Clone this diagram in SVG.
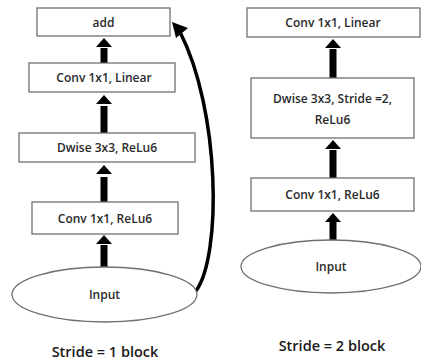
<svg xmlns="http://www.w3.org/2000/svg" width="421" height="360" viewBox="0 0 421 360">
<defs>
<style>
.box{fill:#fff;stroke:#707070;stroke-width:1.3}
.ell{fill:#fff;stroke:#707070;stroke-width:1.3}
.t{font-family:"Open Sans","DejaVu Sans",sans-serif;font-size:12px;font-weight:600;fill:#2a2a2a;text-anchor:middle}
.cap{font-family:"Open Sans","DejaVu Sans",sans-serif;font-size:14.5px;font-weight:600;fill:#1a1a1a;text-anchor:middle}
.shaft{stroke:#000;stroke-width:7;fill:none}
</style>
</defs>
<rect width="421" height="360" fill="#fff"/>
<g id="connectors">
<path class="shaft" d="M104,202 V177"/><path d="M96,174 L104,165 L112,174 z"/>
<path class="shaft" d="M104,267 V245"/><path d="M96,244 L104,235 L112,244 z"/>
<path class="shaft" d="M104,133 V106"/><path d="M96,104 L104,95 L112,104 z"/>
<path class="shaft" d="M104,63 V48"/><path d="M96,47 L104,38 L112,47 z"/>
<path class="shaft" d="M333,78 V49"/><path d="M325,48 L333,39 L341,48 z"/>
<path class="shaft" d="M333,178 V150"/><path d="M325,149 L333,140 L341,149 z"/>
<path class="shaft" d="M333,240 V222"/><path d="M325,222 L333,213 L341,222 z"/>
<path d="M196,291 C222,255 220,110 180,32" fill="none" stroke="#000" stroke-width="3.5"/>
<path d="M172,22 L188,28 L176,38 z"/>
</g>
<g id="add"><rect class="box" x="37" y="8" width="133" height="28"/><text class="t" x="103.5" y="26.5">add</text></g>
<g id="l_linear"><rect class="box" x="29" y="63" width="146" height="29"/><text class="t" x="104" y="82">Conv 1x1, Linear</text></g>
<g id="l_dwise"><rect class="box" x="19" y="133" width="176" height="29"/><text class="t" x="107" y="152">Dwise 3x3, ReLu6</text></g>
<g id="l_conv"><rect class="box" x="32" y="202" width="146" height="32"/><text class="t" x="105" y="222.5">Conv 1x1, ReLu6</text></g>
<g id="l_input"><ellipse class="ell" cx="104.5" cy="294.5" rx="92.5" ry="27.5"/><text class="t" x="104.5" y="299">Input</text></g>
<g id="r_linear"><rect class="box" x="247" y="8" width="173" height="29"/><text class="t" x="333" y="27">Conv 1x1, Linear</text></g>
<g id="r_dwise"><rect class="box" x="251" y="78" width="163" height="60"/><text class="t" x="332.5" y="103">Dwise 3x3, Stride =2,</text><text class="t" x="332.5" y="124">ReLu6</text></g>
<g id="r_conv"><rect class="box" x="251" y="178" width="163" height="33"/><text class="t" x="332.5" y="198.5">Conv 1x1, ReLu6</text></g>
<g id="r_input"><ellipse class="ell" cx="331" cy="266.5" rx="90" ry="26.5"/><text class="t" x="331" y="271">Input</text></g>
<text class="cap" x="105" y="357">Stride = 1 block</text>
<text class="cap" x="332" y="351">Stride = 2 block</text>
</svg>
